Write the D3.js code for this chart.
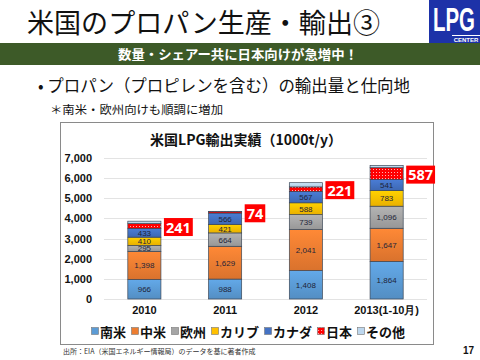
<!DOCTYPE html>
<html><head><meta charset="utf-8">
<script src="https://cdn.jsdelivr.net/npm/d3@7"></script>
<style>body{margin:0;background:#fff}svg{display:block}</style>
</head><body>
<script>
const years = ["2010","2011","2012","2013(1-10月)"];
const seriesNames = ["南米","中米","欧州","カリブ","カナダ","日本","その他"];
const southAmerica = [966, 988, 1408, 1864];
const centralAmerica = [1398, 1629, 2041, 1647];
const europe = [295, 664, 739, 1096];
const caribbean = [410, 421, 588, 783];
const canada = [433, 566, 567, 541];
const japan = [241, 74, 221, 587];
const others = [120, 10, 210, 115];
const yTicks = [0,1000,2000,3000,4000,5000,6000,7000];
const colors = ["#5b9bd5","#ed7d31","#a5a5a5","#ffc000","#4472c4","#ff0000","#bdd7ee"];

const seriesVals = [southAmerica, centralAmerica, europe, caribbean, canada, japan, others];
const table = years.map((y,i)=>{const o={year:y}; seriesNames.forEach((s,k)=>o[s]=seriesVals[k][i]); return o;});

const W=480,H=360;
const svg=d3.select("body").append("svg").attr("width",W).attr("height",H);
const jp='"Noto Sans CJK JP", sans-serif';
const lat='"Liberation Sans", Arial, sans-serif';
const defs=svg.append("defs");
colors.forEach((c,i)=>{
  const g=defs.append("linearGradient").attr("id","g"+i).attr("x1",0).attr("y1",0).attr("x2",0).attr("y2",1);
  g.append("stop").attr("offset","0%").attr("stop-color",d3.color(c).brighter(0.25));
  g.append("stop").attr("offset","100%").attr("stop-color",d3.color(c).darker(0.25));
});
const pat=defs.append("pattern").attr("id","dots").attr("width",3).attr("height",3).attr("patternUnits","userSpaceOnUse");
pat.append("rect").attr("width",3).attr("height",3).attr("fill","#ff0000");
pat.append("rect").attr("x",1).attr("y",1).attr("width",1).attr("height",1).attr("fill","#ffb0b0");

// Header
svg.append("text").attr("x",27).attr("y",33).attr("font-family",jp).attr("font-size",27).attr("textLength",353).attr("lengthAdjust","spacingAndGlyphs").attr("fill","#111").text("米国のプロパン生産・輸出③");
// logo
svg.append("rect").attr("x",429).attr("y",0).attr("width",51).attr("height",43).attr("fill","#1d32a8");
svg.append("text").attr("x",433).attr("y",31).attr("font-family",lat).attr("font-weight","bold").attr("font-size",33).attr("textLength",42).attr("lengthAdjust","spacingAndGlyphs").attr("fill","#fff").text("LPG");
svg.append("line").attr("x1",452).attr("x2",480).attr("y1",35.5).attr("y2",35.5).attr("stroke","#fff").attr("stroke-width",1);
svg.append("text").attr("x",466).attr("y",42).attr("text-anchor","middle").attr("font-family",lat).attr("font-weight","bold").attr("font-size",6).attr("fill","#fff").text("CENTER");
svg.append("rect").attr("x",0).attr("y",43).attr("width",480).attr("height",22).attr("fill","#3d5a28");
svg.append("text").attr("x",238).attr("y",59).attr("text-anchor","middle").attr("font-family",jp).attr("font-weight","bold").attr("font-size",13).attr("textLength",240).attr("lengthAdjust","spacingAndGlyphs").attr("fill","#fff").text("数量・シェアー共に日本向けが急増中！");
svg.append("text").attr("x",38).attr("y",92).attr("font-family",jp).attr("font-size",17).attr("textLength",372).attr("lengthAdjust","spacingAndGlyphs").attr("fill","#111").text("• プロパン（プロピレンを含む）の輸出量と仕向地");
svg.append("text").attr("x",50).attr("y",114).attr("font-family",jp).attr("font-size",11.5).attr("textLength",173).attr("lengthAdjust","spacingAndGlyphs").attr("fill","#111").text("＊南米・欧州向けも順調に増加");

// chart box
svg.append("rect").attr("x",60.5).attr("y",122.5).attr("width",373).attr("height",222).attr("fill","#fff").attr("stroke","#8a8a8a").attr("stroke-width",1);
svg.append("text").attr("x",246).attr("y",145).attr("text-anchor","middle").attr("font-family",jp).attr("font-weight","bold").attr("font-size",14).attr("fill","#111").text("米国LPG輸出実績（1000t/y）");

const y=d3.scaleLinear().domain([0,7000]).range([299,158]);
const x=d3.scaleBand().domain(years).range([104,427]).paddingInner(0.59).paddingOuter(0.295);

svg.append("g").selectAll("line").data(yTicks).join("line")
  .attr("x1",104).attr("x2",427).attr("y1",d=>Math.round(y(d))+0.5).attr("y2",d=>Math.round(y(d))+0.5)
  .attr("stroke","#e3e3e3").attr("stroke-width",1);
const yAxis=d3.axisLeft(y).tickValues(yTicks).tickFormat(d3.format(",")).tickSize(0).tickPadding(0);
const ya=svg.append("g").attr("transform","translate(92,0)").call(yAxis);
ya.select(".domain").remove();
ya.selectAll("text").attr("font-family",lat).attr("font-weight","bold").attr("font-size",11).attr("fill","#111");
const xAxis=d3.axisBottom(x).tickSize(0).tickPadding(0);
const xa=svg.append("g").attr("transform","translate(0,306)").call(xAxis);
xa.select(".domain").remove();
xa.selectAll("text").attr("font-family",lat).attr("font-weight","bold").attr("font-size",11).attr("fill","#111");

const stack=d3.stack().keys(seriesNames)(table);
const layers=svg.append("g").selectAll("g").data(stack).join("g")
  .attr("fill",(d,i)=>i===5?"url(#dots)":"url(#g"+i+")");
layers.selectAll("rect").data(d=>d).join("rect")
  .attr("x",d=>x(d.data.year)).attr("width",x.bandwidth())
  .attr("y",d=>y(d[1])).attr("height",d=>y(d[0])-y(d[1]))
  .attr("stroke","#3b4656").attr("stroke-width",0.7);
// segment labels
stack.forEach((layer,i)=>{
  if(i>=5) return;
  svg.append("g").selectAll("text").data(layer).join("text")
    .attr("x",d=>x(d.data.year)+x.bandwidth()/2).attr("y",d=>(y(d[0])+y(d[1]))/2+3)
    .attr("text-anchor","middle").attr("font-family",lat).attr("font-size",8).attr("fill","#1e2438")
    .text(d=>d3.format(",")(d[1]-d[0]));
});
// Japan callouts
const jl=stack[5];
const cg=svg.append("g").selectAll("g").data(jl).join("g")
  .attr("transform",d=>`translate(${x(d.data.year)+x.bandwidth()+4},${(y(d[0])+y(d[1]))/2+1})`);
cg.each(function(d){
  const g=d3.select(this);
  const t=g.append("text").attr("x",0).attr("y",5.5).attr("font-family",'"Open Sans", sans-serif').attr("font-weight","bold").attr("font-size",14.5).attr("fill","#fff").text(d[1]-d[0]);
  const w=t.node().getComputedTextLength();
  g.insert("rect","text").attr("x",-1).attr("y",-9).attr("width",w+4).attr("height",18).attr("fill","#ff0000");
  t.attr("x",1);
});

// legend
const lg=svg.append("g").attr("transform","translate(91,332)");
let lx=0;
seriesNames.forEach((s,i)=>{
  const it=lg.append("g").attr("transform",`translate(${lx},0)`);
  it.append("rect").attr("x",0.5).attr("y",-4.5).attr("width",7).attr("height",7).attr("fill",i===5?"url(#dots)":colors[i]).attr("stroke","#777").attr("stroke-width",0.6);
  const t=it.append("text").attr("x",9).attr("y",5).attr("font-family",jp).attr("font-weight","bold").attr("font-size",13).attr("fill","#111").text(s);
  lx+=9+t.node().getComputedTextLength()+5;
});

svg.append("text").attr("x",63).attr("y",354).attr("font-family",jp).attr("font-size",7).attr("fill","#333").text("出所：EIA（米国エネルギー情報局）のデータを基に著者作成");
svg.append("text").attr("x",474).attr("y",354).attr("text-anchor","end").attr("font-family",lat).attr("font-weight","bold").attr("font-size",10).attr("fill","#111").text("17");
</script>
</body></html>
